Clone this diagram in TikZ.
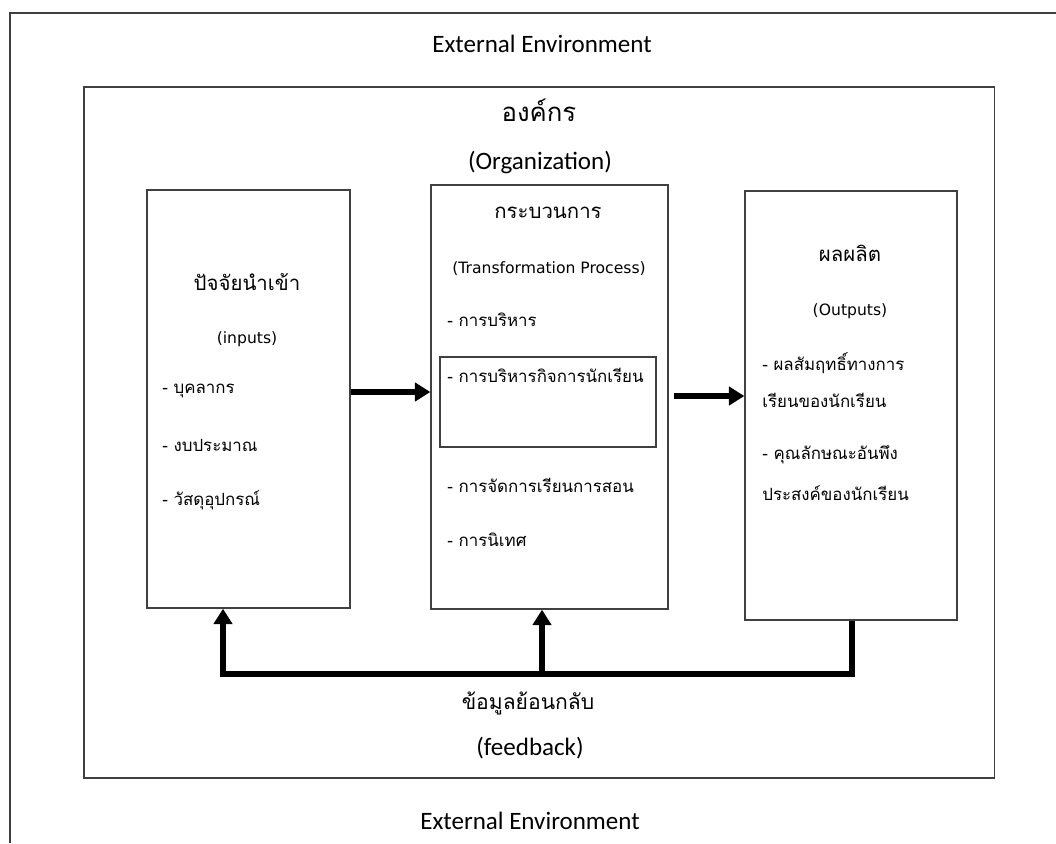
\documentclass[tikz,border=0pt]{standalone}
\usepackage{fontspec}
\setmainfont{Carlito}
\newfontfamily\thai[Script=Thai]{Loma}
\newfontfamily\tah{DejaVu Sans}
\usetikzlibrary{arrows.meta, calc}

\begin{document}
\begin{tikzpicture}[x=0.025cm,y=-0.025cm,
  frame/.style={draw=black!75,line width=0.9pt},
  box/.style={frame,rectangle,inner sep=0pt},
  flow/.style={line width=3.9pt,-{Triangle[length=11pt,width=13pt]}},
  head/.style={font=\thai\fontsize{14.5}{17}\selectfont},
  item/.style={anchor=west,inner sep=0pt,font=\thai\fontsize{12}{14}\selectfont},
  eng/.style={font=\tah\fontsize{11.1}{13}\selectfont},
  env/.style={font=\fontsize{17.8}{20}\selectfont}]
  \useasboundingbox (0,0) rectangle (1056,843);
  % outer frame (cut off at right and bottom)
  \draw[frame] (10,843) -- (10,13) -- (1056,13);
  \node[box,minimum width=22.75cm,minimum height=17.275cm] (org) at (539,432.5) {};
  \node[box,minimum width=5.075cm,minimum height=10.45cm] (inbox) at (248.5,399) {};
  \node[box,minimum width=5.925cm,minimum height=10.6cm] (procbox) at (549.5,397) {};
  \node[box,minimum width=5.4cm,minimum height=2.25cm] (stud) at (548,402) {};
  \node[box,minimum width=5.3cm,minimum height=10.725cm] (outbox) at (851,405.5) {};

  \node[env] (envtop) at (542,44) {External Environment};
  \node[head,font=\thai\fontsize{18.3}{21}\selectfont] (orgth) at (539,110) {องค์กร};
  \node[env] (orgen) at (540,162) {(Organization)};

  % inputs
  \node[head] (inth) at (247,282) {ปัจจัยนำเข้า};
  \node[eng] (inen) at (247,339) {(inputs)};
  \node[item] (in1) at (162,391) {- บุคลากร};
  \node[item] (in2) at (162,445) {- งบประมาณ};
  \node[item] (in3) at (162,500) {- วัสดุอุปกรณ์};

  % process
  \node[head] (procth) at (548,213) {กระบวนการ};
  \node[eng] (procen) at (549,269) {(Transformation Process)};
  \node[item] (p1) at (447,320) {- การบริหาร};
  \node[item] (p2) at (447,375) {- การบริหารกิจการนักเรียน};
  \node[item] (p3) at (447,485) {- การจัดการเรียนการสอน};
  \node[item] (p4) at (447,540) {- การนิเทศ};

  % outputs
  \node[head] (outth) at (850,253) {ผลผลิต};
  \node[eng] (outen) at (850,311) {(Outputs)};
  \node[item] (o1) at (762,363) {- ผลสัมฤทธิ์ทางการ};
  \node[item] (o1b) at (762,400) {เรียนของนักเรียน};
  \node[item] (o2) at (762,455) {- คุณลักษณะอันพึง};
  \node[item] (o2b) at (762,493) {ประสงค์ของนักเรียน};

  % feedback
  \node[head,font=\thai\fontsize{15}{18}\selectfont] (fbth) at (528,703) {ข้อมูลย้อนกลับ};
  \node[env] (fben) at (530,748) {(feedback)};
  \node[env] (envbot) at (530,821) {External Environment};

  \draw[flow] (inbox.east |- 0,392) -- (procbox.west |- 0,392);
  \draw[flow] ($(procbox.east |- 0,396)+(5,0)$) -- (outbox.west |- 0,396);

  \coordinate (fbl) at (223,674);
  \coordinate (fbm) at (542,674);
  \coordinate (fbr) at (852,674);
  \draw[flow] (outbox.south -| fbr) -- (fbr) -- (fbl) -- (inbox.south -| fbl);
  \draw[flow] (fbm) -- (procbox.south -| fbm);
\end{tikzpicture}
\end{document}
